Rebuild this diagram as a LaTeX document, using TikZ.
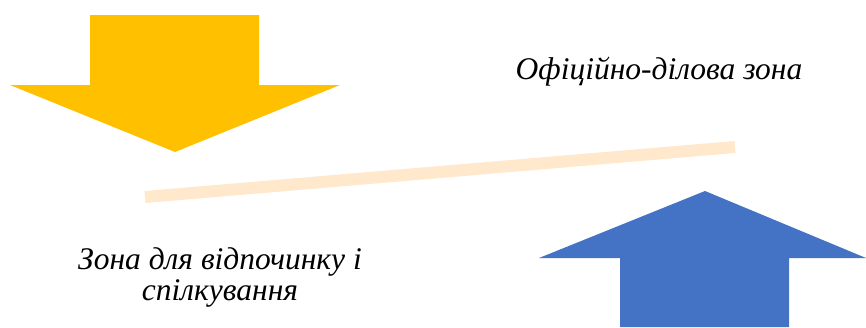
\documentclass[tikz,border=0pt]{standalone}
\usepackage{fontspec}
\setmainfont{Liberation Serif}
\newfontfamily\zonefont{Liberation Serif}
\usepackage{xcolor}
\definecolor{arrowYellow}{HTML}{FFC000}
\definecolor{arrowBlue}{HTML}{4472C4}
\definecolor{barBeige}{HTML}{FFE8CC}
\usetikzlibrary{positioning}
\tikzset{%
    zone/.style={%
        font=\zonefont\fontsize{31.5}{31}\selectfont\itshape, align=center, inner sep=0
    },
    bigarrow/.style={%
        draw=none
    },
}

\begin{document}
\begin{tikzpicture}[x=1pt, y=-1pt]
    \useasboundingbox (0,0) rectangle (866,327);

    % yellow arrow down
    \fill[bigarrow, fill=arrowYellow] (90,15) -- (259,15) -- (259,85) -- (340,85)
        -- (175,152) -- (10,85) -- (90,85) -- cycle;

    % blue arrow up
    \fill[bigarrow, fill=arrowBlue] (620,327) -- (620,258) -- (539,258) -- (705,191)
        -- (866,258) -- (789,258) -- (789,327) -- cycle;

    % bar between the zones
    \coordinate (barleft) at (145,197);
    \coordinate (barright) at (735,147);
    \draw[barBeige, line width=12pt] (barleft) -- (barright);

    \node[zone] (official) at (659,72) {Офіційно-ділова зона};
    \node[zone] (rest) at (220,277) {Зона для відпочинку і\\спілкування};
\end{tikzpicture}
\end{document}
